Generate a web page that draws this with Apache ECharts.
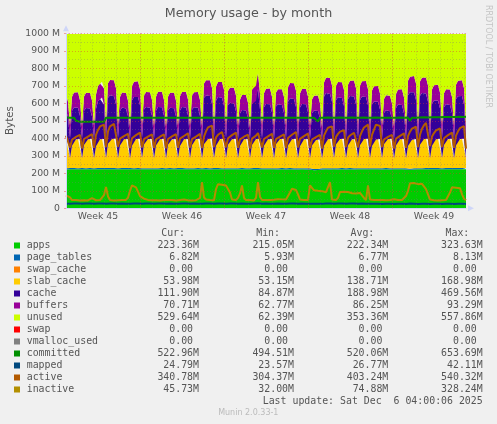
<!DOCTYPE html>
<html><head><meta charset="utf-8">
<script src="https://cdn.jsdelivr.net/npm/echarts@6/dist/echarts.min.js"></script>
<style>html,body{margin:0;padding:0;background:#F0F0F0;}#c{width:497px;height:424px;}</style>
</head><body><div id="c"></div>
<script>
// ---- time base: samples every 4 h, first sample Sun 2025-11-02 20:00, last Sat 2025-12-06 04:00
const START_UTC = Date.UTC(2025, 10, 2, 20, 0, 0);
const STEP_HOURS = 4;
const MEM_TOTAL = 996.41; // total RAM in M (sum of stacked values)

const weekLabels = ['Week 45', 'Week 46', 'Week 47', 'Week 48', 'Week 49'];
const yTickLabels = ['0', '100 M', '200 M', '300 M', '400 M', '500 M', '600 M', '700 M', '800 M', '900 M', '1000 M'];

// each row after the first: one day, samples at 08,12,16,20,00,04 h
const apps = [222.1,222.4,223.0,
222.5,222.8,223.1,222.6,222.3,222.9,
223.2,222.7,222.4,222.9,223.3,222.8,
222.6,223.0,223.4,222.8,222.5,223.1,
223.5,222.9,222.6,223.0,223.2,222.7,
222.4,222.8,223.3,222.9,222.6,223.0,
223.1,222.7,222.5,223.2,222.9,222.6,
222.3,222.8,223.0,222.7,222.4,222.9,
223.0,222.6,222.8,223.1,222.7,222.5,
222.8,223.2,222.9,222.5,222.8,223.0,
222.6,222.9,223.3,222.8,222.4,222.7,
223.1,222.8,222.5,222.9,223.2,222.6,
222.7,223.0,222.8,222.4,222.9,223.1,
222.5,222.8,223.2,222.7,222.3,222.8,
222.9,222.6,222.4,222.8,223.0,222.7,
222.4,222.9,223.1,222.6,222.8,222.5,
222.8,223.1,222.7,222.5,222.9,222.6,
222.3,222.7,223.0,222.8,222.4,222.9,
222.7,222.4,222.8,223.0,222.6,222.3,
222.6,222.9,222.5,222.2,222.7,222.4,
222.1,222.5,222.8,222.4,222.0,221.6,
219.5,218.0,217.2,218.4,220.6,221.8,
222.2,222.6,222.3,222.0,222.4,222.7,
222.5,222.2,222.6,222.9,222.4,222.1,
222.6,222.9,222.5,222.3,222.7,222.8,
222.4,222.7,222.9,222.5,222.2,222.6,
222.8,222.5,222.3,222.7,222.9,222.4,
222.6,222.9,222.7,222.4,222.8,222.5,
222.3,222.7,222.9,222.6,222.4,222.1,
220.8,219.6,220.4,221.9,222.5,222.8,
223.0,222.7,222.9,223.2,222.8,223.1,
223.3,222.9,223.1,223.4,223.0,222.8,
223.2,223.5,223.1,222.9,223.3,223.0,
223.4,223.1,223.5,223.2,223.0,223.36];

const pageTables = [6.71,6.74,6.69,
6.76,6.81,6.78,6.73,6.70,6.68,
6.74,6.79,6.83,6.77,6.72,6.69,
6.75,6.80,6.85,6.79,6.74,6.70,
6.77,6.82,6.86,6.80,6.75,6.71,
6.73,6.78,6.81,6.76,6.71,6.67,
6.76,6.81,6.84,6.78,6.73,6.70,
6.72,6.77,6.80,6.75,6.70,6.66,
6.74,6.79,6.82,6.76,6.72,6.68,
6.73,6.78,6.81,6.75,6.71,6.67,
6.75,6.80,6.83,6.77,6.73,6.69,
6.72,6.77,6.80,6.74,6.70,6.66,
6.78,6.83,6.87,6.81,6.76,6.72,
6.76,6.81,6.85,6.79,6.74,6.70,
6.74,6.79,6.82,6.76,6.72,6.68,
6.71,6.76,6.79,6.73,6.69,5.93,
6.75,6.80,6.84,8.13,6.74,6.69,
6.73,6.78,6.81,6.75,6.71,6.67,
6.72,6.77,6.80,6.74,6.70,6.66,
6.77,6.82,6.86,6.80,6.75,6.71,
6.74,6.79,6.82,6.76,6.72,6.68,
6.70,6.75,6.78,6.72,6.68,6.65,
6.79,6.84,6.88,6.82,6.77,6.73,
6.76,6.81,6.84,6.78,6.74,6.70,
6.77,6.82,6.86,6.80,6.75,6.71,
6.77,6.82,6.85,6.79,6.75,6.71,
6.75,6.80,6.83,6.77,6.73,6.69,
6.70,6.75,6.78,6.72,6.68,6.64,
6.73,6.78,6.81,6.75,6.71,6.67,
6.80,6.85,6.89,6.83,6.78,6.74,
6.79,6.84,6.88,6.82,6.77,6.73,
6.76,6.81,6.85,6.79,6.74,6.70,
6.74,6.79,6.82,6.76,6.72,6.68,
6.78,6.83,6.87,6.81,6.84,6.82];

const slabCache = [167.2,168.1,56.3,
128,161,165,166,167,55.1,
132,163,166,167,168,54.6,
125,160,164,166,167,56.8,
138,164,167,168,168.5,55.4,
130,162,165,166,167,53.9,
127,161,166,167,168,57.2,
135,163,166,167,167.5,55.0,
129,162,165,167,168,54.3,
133,161,165,166,167,56.1,
126,160,164,166,167,55.7,
131,163,166,167,168,53.6,
136,164,167,168,168.9,56.4,
128,162,166,167,168,55.2,
134,163,165,166,167,54.8,
127,160,164,166,167,57.0,
132,162,166,167,168,55.5,
129,161,165,166,167,53.15,
137,164,166,167,168,56.0,
130,162,165,167,168,54.9,
126,161,165,166,167,55.8,
133,163,166,167,167.5,54.2,
128,162,166,167,168,56.6,
135,164,166,167,168,55.3,
129,161,165,166,167,54.7,
131,163,166,168,168.5,57.1,
127,160,164,166,167,55.6,
136,164,167,168,168,54.4,
130,162,165,167,167.5,56.2,
128,161,165,166,167,55.0,
134,163,166,167,168,54.5,
127,161,165,167,168,56.9,
132,162,166,167,168,55.4,
129,161,165,166,167,53.98];

const cache = [169,122,116,
200,186,182,179,131,114,
196,181,177,173,127,117,
215,222,231,238,197,119,
264,252,246,243,196,118,
197,184,178,175,129,113,
261,246,240,239,191,116,
200,187,181,178,132,115,
198,188,183,180,131,112,
196,183,179,176,128,116,
204,189,184,181,135,114,
202,185,182,178,130,117,
266,251,245,244,197,120,
257,244,238,235,189,118,
226,211,205,204,157,115,
185,172,166,163,117,113,
235,221,217,284,167,116,
219,206,202,199,151,114,
216,201,195,194,148,117,
250,237,231,228,182,119,
221,206,200,199,153,115,
184,171,167,164,116,112,
280,267,261,258,212,118,
255,242,236,233,187,117,
266,251,245,244,198,119,
259,246,242,239,191,118,
236,221,215,214,168,116,
180,167,161,158,112,113,
214,201,197,194,146,115,
291,276,270,269,223,120,
279,266,262,259,211,119,
241,226,220,219,173,117,
215,202,196,193,147,115,
265,250,246,245,197,111.9];

const buffers = [89.0,90.0,71.5,
79.5,85.8,88.1,89.0,90.2,69.8,
80.4,86.3,87.9,89.4,90.6,70.9,
81.2,86.9,88.6,90.1,91.4,71.3,
82.0,87.5,89.3,90.8,92.1,71.8,
79.8,85.6,87.7,88.9,89.8,70.2,
80.9,86.4,88.5,89.9,91.0,70.6,
79.2,85.3,87.4,88.6,89.7,69.5,
80.1,86.0,88.0,89.2,90.3,70.4,
79.6,85.7,87.8,89.1,90.0,70.1,
80.7,86.5,88.4,89.7,90.9,70.8,
79.9,85.9,87.9,89.3,90.4,69.9,
81.8,87.2,89.1,90.6,91.9,71.5,
81.3,86.8,88.8,90.2,91.5,71.2,
80.5,86.1,88.2,89.5,90.7,70.5,
79.4,85.2,87.3,88.5,89.5,62.77,
80.8,86.6,88.7,90.0,91.1,70.7,
80.2,86.2,88.3,89.6,90.8,70.3,
80.0,85.9,88.0,89.4,90.5,70.0,
81.5,87.0,89.0,90.4,91.7,71.4,
80.3,86.1,88.2,89.5,90.6,70.6,
79.1,85.0,87.2,88.4,89.4,69.6,
82.3,87.8,89.7,91.2,92.6,72.0,
81.4,86.9,88.9,90.3,91.6,71.1,
81.7,87.3,89.2,90.7,92.0,71.6,
81.6,87.1,89.0,90.5,91.8,71.3,
80.9,86.5,88.6,90.0,91.2,70.8,
78.9,84.9,87.0,88.2,89.3,69.4,
80.2,86.0,88.1,89.4,90.5,70.2,
82.6,88.0,90.1,91.7,93.29,72.2,
82.2,87.6,89.6,91.1,92.5,71.9,
81.1,86.7,88.6,90.1,91.3,71.0,
80.4,86.2,88.3,89.6,90.7,70.4,
81.9,87.4,89.3,90.8,92.0,70.71];

const committed = [518.2,518.6,518.0,
517.6,517.9,500.3,494.6,494.2,493.8,
494.5,494.9,494.1,493.7,494.4,494.8,
494.2,494.6,494.51,494.9,494.3,517.4,
517.8,518.1,517.5,517.9,518.3,517.6,
517.4,517.8,518.2,517.7,517.3,517.0,
517.6,518.0,518.4,517.9,517.5,517.2,
517.3,517.7,518.1,517.6,517.2,516.9,
517.5,517.9,518.3,517.8,517.4,517.1,
517.4,517.8,518.1,517.6,517.3,517.0,
517.6,518.0,518.3,517.8,517.4,517.1,
517.3,517.7,518.0,517.5,517.2,516.9,
517.8,518.2,518.6,518.1,517.7,517.4,
517.7,518.1,518.5,518.0,517.6,517.3,
517.5,517.9,518.2,517.7,517.3,517.0,
517.2,517.6,517.9,517.4,517.1,516.8,
517.6,518.0,518.3,517.9,517.5,517.2,
517.4,517.8,518.1,517.6,517.3,517.0,
517.3,517.7,518.0,517.5,517.2,516.9,
517.7,518.1,518.5,518.0,517.6,517.3,
517.5,517.9,518.2,517.7,517.3,517.0,
517.9,517.6,517.8,495.2,517.5,518.0,
517.8,518.2,518.6,518.1,517.7,517.4,
517.6,518.0,518.3,517.8,517.4,517.1,
517.7,518.1,518.4,517.9,517.5,517.2,
517.8,518.2,518.5,518.0,517.6,517.3,
517.5,517.9,518.2,517.7,517.3,517.0,
517.3,517.7,518.0,517.5,517.2,516.9,
517.6,518.0,518.3,517.8,517.4,517.1,
518.2,500.4,518.0,518.4,518.1,518.6,
519.0,519.4,519.8,519.5,519.2,519.6,
520.1,520.5,520.9,520.6,520.3,520.7,
521.2,521.6,522.0,521.7,521.4,521.8,
522.2,522.6,523.0,522.7,522.4,522.96];

const mapped = [26.3,26.6,25.9,
26.4,27.0,27.3,26.8,26.2,25.8,
26.5,27.1,27.4,26.9,26.3,25.9,
26.8,27.5,27.9,27.2,26.6,26.0,
27.0,27.6,28.0,27.4,26.8,26.1,
26.3,26.9,27.2,26.7,26.1,25.7,
26.7,27.3,27.7,27.1,26.5,26.0,
26.4,27.0,27.3,26.8,26.2,25.8,
26.5,27.1,27.4,26.9,26.3,25.9,
26.4,27.0,27.2,26.7,26.2,25.8,
26.6,27.2,27.5,27.0,26.4,25.9,
26.3,26.9,27.2,26.6,26.1,25.7,
27.1,27.8,28.2,27.5,26.9,26.2,
26.9,27.6,28.0,27.3,26.7,26.1,
26.6,27.2,27.5,26.9,26.4,25.9,
26.2,26.8,27.1,26.5,26.0,25.6,
26.7,27.3,27.6,28.4,26.5,25.9,
26.4,27.0,27.3,26.7,26.2,25.7,
26.3,26.9,27.2,26.6,26.1,25.6,
26.8,27.4,27.8,27.1,26.6,26.0,
26.4,27.0,27.3,26.7,26.2,25.7,
26.0,26.6,26.9,26.3,25.8,25.3,
27.0,27.7,28.1,27.4,26.8,26.1,
26.7,27.3,27.6,27.0,26.4,25.8,
26.5,27.1,27.4,26.8,26.2,25.6,
26.3,26.9,27.2,26.6,26.0,25.4,
26.0,26.6,26.9,26.3,25.7,25.1,
25.4,26.0,26.3,25.7,25.1,24.6,
25.6,26.2,26.5,25.9,25.3,24.8,
26.1,26.8,27.2,26.5,25.8,25.2,
25.9,26.6,27.0,26.3,25.6,25.0,
25.5,26.1,26.4,25.8,25.2,24.7,
25.3,25.9,26.2,25.6,25.0,24.4,
25.6,26.2,26.5,25.9,25.2,24.79];

const active = [415,420,348,
392,402,408,414,420,342,
396,404,410,416,424,346,
420,448,468,474,478,350,
440,468,478,482,485,352,
398,406,412,418,426,344,
400,410,418,425,432,348,
395,404,410,416,423,345,
393,402,409,415,422,343,
396,404,411,417,424,346,
398,407,413,420,428,347,
395,404,410,417,425,344,
410,440,462,470,472,350,
405,420,430,436,440,348,
400,410,418,425,432,346,
394,403,409,415,421,342,
398,408,415,430,428,347,
396,405,411,418,426,345,
395,404,410,416,423,344,
402,412,420,428,436,348,
397,406,412,419,427,346,
392,401,407,413,420,341,
415,440,460,466,468,352,
408,425,438,444,446,350,
404,416,426,432,438,348,
412,440,462,472,478,352,
420,450,478,486,470,350,
393,402,408,414,420,342,
398,408,414,420,428,345,
412,438,455,462,466,350,
420,455,475,488,490,355,
410,430,445,452,456,350,
400,410,418,425,432,346,
415,440,458,466,470,340.78];

const inactive = [74,73,62,
47,45,48,46,44,47,
46,48,45,47,58,49,
46,45,47,48,75,122,
68,47,46,45,48,46,
45,47,46,48,60,100,
131,128,120,95,70,60,
55,50,48,47,46,48,
46,47,45,49,48,46,
47,52,48,46,45,47,
48,46,50,47,46,48,
45,47,46,48,60,150,
62,50,48,47,49,46,
110,138,140,135,138,130,
125,90,50,48,47,60,
85,131,60,47,46,48,
46,45,60,150,65,47,
46,48,45,47,46,49,
50,52,49,51,48,50,
60,90,112,110,105,80,
50,46,47,45,48,131,
120,103,105,100,103,98,
95,92,96,150,50,46,
47,60,93,92,95,90,
93,88,86,90,85,88,
88,86,60,47,131,50,
46,47,45,48,46,47,
49,46,55,48,47,52,
46,48,58,47,46,70,
100,143,140,145,142,138,
143,140,135,110,80,50,
47,46,48,45,47,46,
48,47,46,90,120,122,
118,120,115,80,55,45.73];

// ---- legend table (text as printed under the graph)
const legendNames = ['apps','page_tables','swap_cache','slab_cache','cache','buffers','unused','swap','vmalloc_used','committed','mapped','active','inactive'];
const curVals = ['223.36M','6.82M','0.00','53.98M','111.90M','70.71M','529.64M','0.00','0.00','522.96M','24.79M','340.78M','45.73M'];
const minVals = ['215.05M','5.93M','0.00','53.15M','84.87M','62.77M','62.39M','0.00','0.00','494.51M','23.57M','304.37M','32.00M'];
const avgVals = ['222.34M','6.77M','0.00','138.71M','188.98M','86.25M','353.36M','0.00','0.00','520.06M','26.77M','403.24M','74.88M'];
const maxVals = ['323.63M','8.13M','0.00','168.98M','469.56M','93.29M','557.86M','0.00','0.00','653.69M','42.11M','540.32M','328.24M'];
const columnHeaders = ['Cur:','Min:','Avg:','Max:'];
const lastUpdate = 'Last update: Sat Dec  6 04:00:06 2025';

// ---- styles
const COLORS = {
  apps:'#00CC00', page_tables:'#0066B3', swap_cache:'#FF8000', slab_cache:'#FFCC00',
  cache:'#330099', buffers:'#990099', unused:'#CCFF00', swap:'#FF0000', vmalloc_used:'#808080',
  committed:'#008F00', mapped:'#00487D', active:'#B35A00', inactive:'#B38F00'
};
const TXT = '#555555';
const MONO = '"DejaVu Sans Mono", monospace';
const SANS = '"DejaVu Sans", sans-serif';

// ---- derived
const N = apps.length;
const cats = [];
const dayLine = {}, weekLine = {}, labelAt = {};
let wl = 0;
for (let i = 0; i < N; i++) {
  const d = new Date(START_UTC + i * STEP_HOURS * 3600000);
  cats.push(d.toISOString().slice(0, 16));
  if (d.getUTCHours() === 0) dayLine[i] = true;
  if (d.getUTCHours() === 0 && d.getUTCDay() === 0) weekLine[i] = true;
  if (d.getUTCHours() === 12 && d.getUTCDay() === 3 && wl < weekLabels.length) labelAt[i] = weekLabels[wl++];
}
const unused = apps.map((v, i) => +(MEM_TOTAL - v - pageTables[i] - slabCache[i] - cache[i] - buffers[i]).toFixed(2));

function areaSeries(name, data) {
  return { name, type: 'line', stack: 'mem', data, symbol: 'none', z: 2,
    lineStyle: { width: 0 }, itemStyle: { color: COLORS[name] },
    areaStyle: { color: COLORS[name], opacity: 1 }, emphasis: { disabled: true } };
}
function lineSeries(name, data) {
  return { name, type: 'line', data, symbol: 'none', z: 3,
    lineStyle: { width: 2, color: COLORS[name] }, itemStyle: { color: COLORS[name] }, emphasis: { disabled: true } };
}

// ---- graphic texts
const g = [];
g.push({ type: 'text', x: 248.5, y: 13.8, style: { text: 'Memory usage - by month', font: '12.7px ' + SANS, fill: TXT, textAlign: 'center', align: 'center', textVerticalAlign: 'middle', verticalAlign: 'middle' } });
g.push({ type: 'text', x: 10.5, y: 120.5, rotation: Math.PI / 2, style: { text: 'Bytes', font: '10.3px ' + SANS, fill: TXT, textAlign: 'center', align: 'center', textVerticalAlign: 'middle', verticalAlign: 'middle' } });
g.push({ type: 'text', x: 488.5, y: 56.5, rotation: -Math.PI / 2, style: { text: 'RRDTOOL / TOBI OETIKER', font: '8px ' + SANS, fill: '#C4C4C4', textAlign: 'center', align: 'center', textVerticalAlign: 'middle', verticalAlign: 'middle' } });
const headRight = [185, 280, 374.3, 469.3];
const valRight = [199, 294, 388.3, 482.7];
columnHeaders.forEach((h, j) => g.push({ type: 'text', x: headRight[j], y: 233.3, style: { text: h, font: '9.9px ' + MONO, fill: TXT, textAlign: 'right', align: 'right', textVerticalAlign: 'middle', verticalAlign: 'middle' } }));
const cols = [curVals, minVals, avgVals, maxVals];
legendNames.forEach((nm, i) => {
  const y = 245.7 + 12 * i;
  g.push({ type: 'rect', shape: { x: 14, y: y - 3.2, width: 6, height: 6 }, style: { fill: COLORS[nm] } });
  g.push({ type: 'text', x: 26.7, y, style: { text: nm, font: '9.9px ' + MONO, fill: TXT, textAlign: 'left', align: 'left', textVerticalAlign: 'middle', verticalAlign: 'middle' } });
  cols.forEach((arr, j) => {
    const s = /M$/.test(arr[i]) ? arr[i] : arr[i] + ' ';
    g.push({ type: 'text', x: valRight[j], y, style: { text: s, font: '9.9px ' + MONO, fill: TXT, textAlign: 'right', align: 'right', textVerticalAlign: 'middle', verticalAlign: 'middle' } });
  });
});
g.push({ type: 'text', x: 482.7, y: 401.7, style: { text: lastUpdate, font: '9.9px ' + MONO, fill: TXT, textAlign: 'right', align: 'right', textVerticalAlign: 'middle', verticalAlign: 'middle' } });
g.push({ type: 'text', x: 248.3, y: 413.3, style: { text: 'Munin 2.0.33-1', font: '8px ' + SANS, fill: '#BBBBBB', textAlign: 'center', align: 'center', textVerticalAlign: 'middle', verticalAlign: 'middle' } });

const GRID_MINOR = 'rgba(120,120,120,0.35)';
const GRID_MAJOR = 'rgba(230,50,50,0.42)';
const AXIS_COL = '#CFD6F8';

const chart = echarts.init(document.getElementById('c'), null, { renderer: 'canvas' });
chart.setOption({
  animation: false,
  backgroundColor: '#F0F0F0',
  grid: { left: 66, right: 31, top: 33.3, bottom: 215.7, containLabel: false, outerBoundsMode: 'none' },
  xAxis: [
    { type: 'category', data: cats, boundaryGap: false, z: 10,
      axisLine: { show: true, lineStyle: { color: AXIS_COL, width: 1 }, symbol: ['none', 'triangle'], symbolSize: [6, 6], symbolOffset: [0, 5] },
      axisTick: { show: false },
      axisLabel: { interval: (i) => labelAt[i] !== undefined, formatter: (v, i) => labelAt[i] || '', color: TXT, fontFamily: SANS, fontSize: 9.3, margin: 4, hideOverlap: false },
      splitLine: { show: true, interval: (i) => !!dayLine[i], lineStyle: { color: GRID_MINOR, width: 1, type: [1, 2] } } },
    { type: 'category', data: cats, boundaryGap: false, z: 11, position: 'bottom',
      axisLine: { show: false }, axisTick: { show: false }, axisLabel: { show: false },
      splitLine: { show: true, interval: (i) => !!weekLine[i], lineStyle: { color: GRID_MAJOR, width: 1, type: [1, 2] } } }
  ],
  yAxis: [{ type: 'value', min: 0, max: 1000, interval: 100, z: 10,
    axisLine: { show: true, lineStyle: { color: AXIS_COL, width: 1 }, symbol: ['none', 'triangle'], symbolSize: [6, 6], symbolOffset: [0, 5] },
    axisTick: { show: true, length: 2, lineStyle: { color: GRID_MAJOR } },
    axisLabel: { formatter: (v) => yTickLabels[Math.round(v / 100)], color: TXT, fontFamily: SANS, fontSize: 9.3, margin: 6 },
    splitLine: { show: true, lineStyle: { color: GRID_MAJOR, width: 1, type: [1, 2] } },
    minorTick: { show: false, splitNumber: 2 },
    minorSplitLine: { show: true, lineStyle: { color: GRID_MINOR, width: 1, type: [1, 2] } } }],
  series: [
    areaSeries('apps', apps),
    areaSeries('page_tables', pageTables),
    areaSeries('slab_cache', slabCache),
    areaSeries('cache', cache),
    areaSeries('buffers', buffers),
    areaSeries('unused', unused),
    lineSeries('committed', committed),
    lineSeries('mapped', mapped),
    lineSeries('active', active),
    lineSeries('inactive', inactive)
  ],
  graphic: { elements: g }
});
</script>
</body></html>
